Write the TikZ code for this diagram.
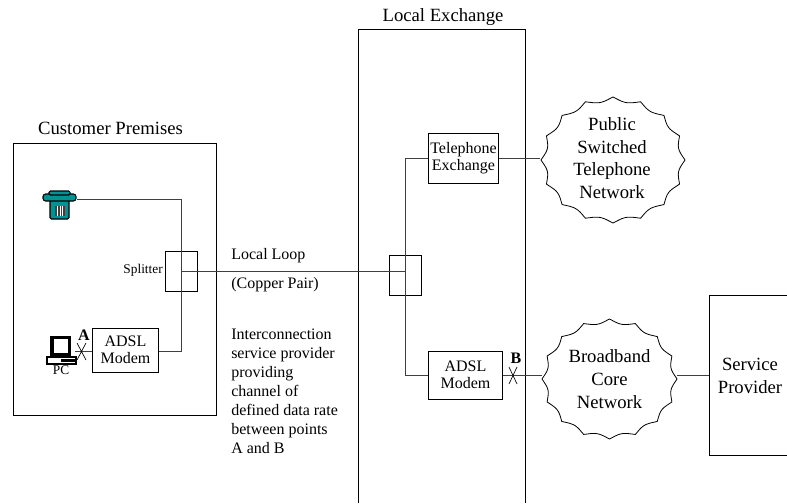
\documentclass[tikz,border=0pt]{standalone}
\usepackage{fontspec}
\setmainfont{Liberation Serif}
\tikzset{
  wire/.style={line width=0.75pt,black!75},
  boxnode/.style={draw,line width=0.75pt,align=center,inner sep=0pt,font=\fontsize{12}{13}\selectfont},
  labelnode/.style={align=left,inner sep=0pt,font=\fontsize{12}{14.2}\selectfont},
  titlenode/.style={inner sep=0pt,font=\fontsize{14}{17}\selectfont},
  cloudnode/.style={align=center,inner sep=0pt,font=\fontsize{14}{17}\selectfont},
}
\newcommand{\wavycloud}[4]{%
  \draw[line width=0.6pt] plot[domain=0:360,samples=321,variable=\t]
    ({#1+#3*(1-0.07*abs(sin(8*\t)))*cos(\t)},{#2+#4*(1-0.07*abs(sin(8*\t)))*sin(\t)}) -- cycle;
}
\begin{document}
\begin{tikzpicture}[x=0.75pt,y=-0.75pt]
\useasboundingbox (0,0) rectangle (787,503);

% Buildings
\draw[line width=0.75pt] (13,143) rectangle (216,415);
\draw[line width=0.75pt] (358,503) -- (358,30) -- (525,30) -- (525,503);
\draw[line width=0.75pt] (787,295) -- (709,295) -- (709,455) -- (787,455);
\node[titlenode] at (110.5,128) {Customer Premises};
\node[titlenode] at (443,17) {Local Exchange};

% Boxes
\node[boxnode,minimum width=24pt,minimum height=30pt] (splitcust) at (181,271) {};
\node[boxnode,minimum width=24pt,minimum height=30pt] (splitexch) at (405,275) {};
\node[boxnode,minimum width=49pt,minimum height=33pt] (modemcust) at (125.5,350) {ADSL\\Modem};
\node[boxnode,minimum width=55pt,minimum height=36pt] (modemexch) at (465.5,375) {ADSL\\Modem};
\node[boxnode,minimum width=53pt,minimum height=38pt] (telexch) at (463.5,158.5) {Telephone\\Exchange};
\coordinate (phone) at (77,199);
\coordinate (pc) at (75,351);
\coordinate (provider) at (709,375);

% Clouds
\wavycloud{613}{160}{72}{63}
\wavycloud{609.5}{379}{67.5}{60}
\node[cloudnode,minimum width=108pt] (pstn) at (612,158) {Public\\Switched\\Telephone\\Network};
\node[cloudnode,minimum width=101pt] (core) at (609.5,379) {Broadband\\Core\\Network};
\node[cloudnode] (servprov) at (750,376) {Service\\Provider};

% Wires
\draw[wire] (phone) -| (splitcust.center);
\draw[wire] (pc -| modemcust.east) -| (splitcust.center);
\draw[wire] (splitcust.center) -- (splitexch.center |- splitcust.center);
\draw[wire] (telexch.west) -| (splitexch.center);
\draw[wire] (modemexch.west) -| (splitexch.center);
\draw[wire] (telexch.east) -- (pstn.west |- telexch.east);
\draw[wire] (modemexch.east) -- (core.west |- modemexch.east);
\draw[wire] (core.east |- provider) -- (provider);
\draw[wire] (pc) -- (pc -| modemcust.west);

% Test points
\draw[line width=0.5pt] (77,343) -- (86,360) (86,343) -- (77,360);
\draw[line width=0.5pt] (509,367) -- (517,384) (517,367) -- (509,384);
\node[labelnode,font=\fontsize{12}{12}\bfseries] at (84,335) {A};
\node[labelnode,font=\fontsize{12}{12}\bfseries] at (516,358) {B};

% Labels
\node[labelnode,anchor=east,font=\fontsize{10}{10}\selectfont] at (163,270) {Splitter};
\node[labelnode,anchor=base west] at (231,259) {Local Loop};
\node[labelnode,anchor=base west] at (231,288) {(Copper Pair)};
\node[labelnode,anchor=north west] at (231,329) {Interconnection\\service provider\\providing\\channel of\\defined data rate\\between points\\A and B};
\node[labelnode,font=\fontsize{10}{10}\selectfont] at (61,370) {PC};

% Phone icon
\begin{scope}[line width=0.8pt]
\fill[teal!85!cyan,draw=black,rounded corners=1pt] (50,200) rectangle (69,219);
\fill[teal!85!cyan,draw=black,rounded corners=2pt] (43,194) rectangle (76,201);
\fill[teal!85!cyan,draw=black,rounded corners=1pt] (49,191) rectangle (70,195);
\fill[black!75] (55,206) rectangle (65,216);
\foreach \xx in {57.5,60,62.5} \draw[white,line width=0.3pt] (\xx,206) -- (\xx,216);
\end{scope}

% PC icon
\begin{scope}[line width=0.6pt]
\fill[black] (50,336) rectangle (71,358);
\fill[white] (54,339) rectangle (68,353);
\fill[white,draw=black,line width=1pt] (47,357) rectangle (76,364);
\fill[black] (61,359) rectangle (75,362);
\end{scope}
\end{tikzpicture}
\end{document}
